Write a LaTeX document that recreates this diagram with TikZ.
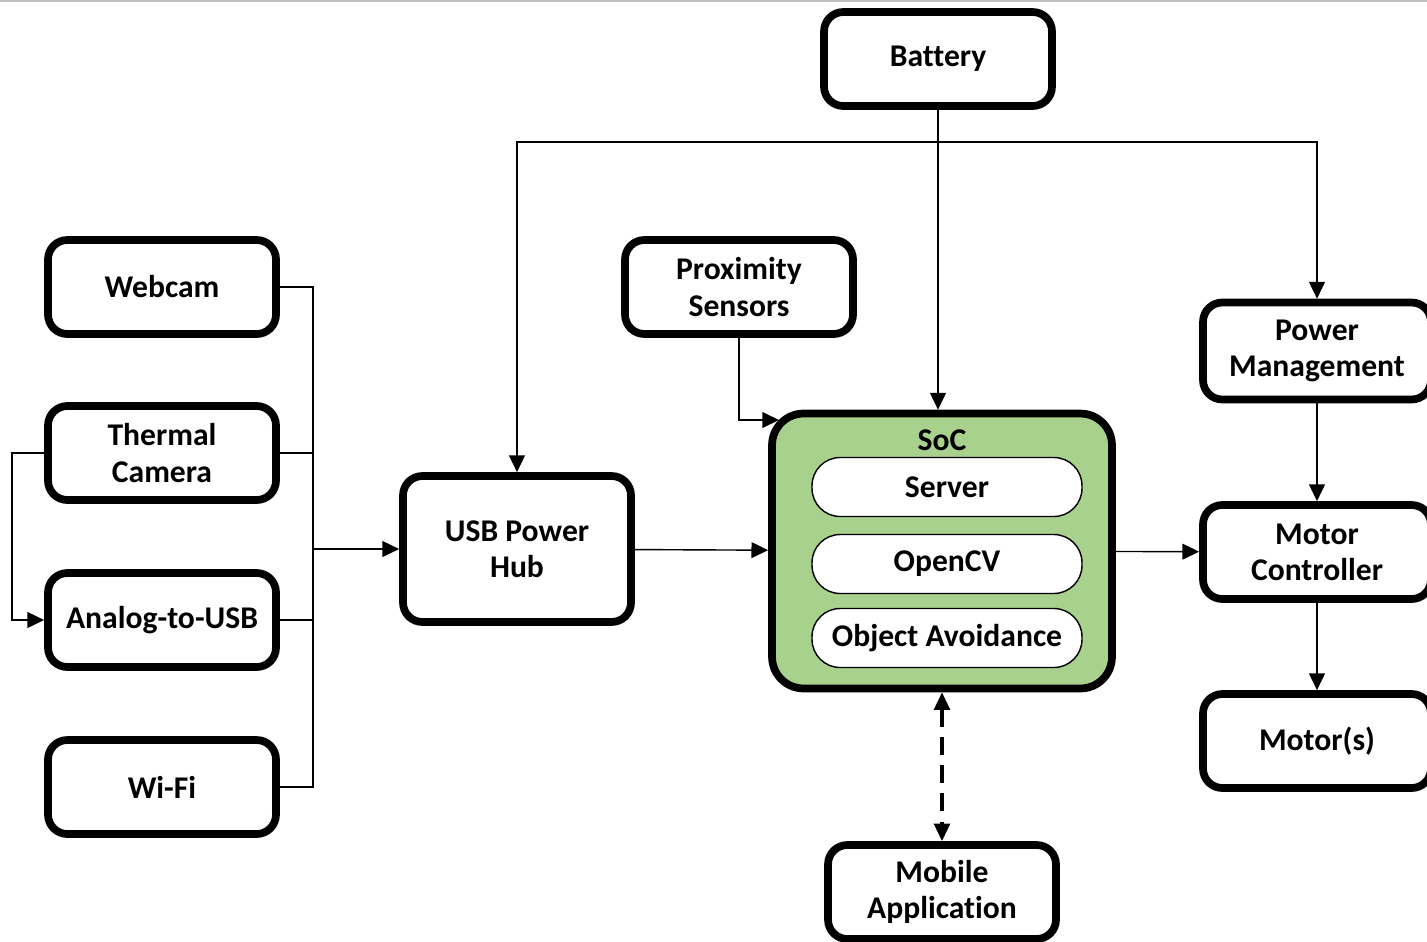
\documentclass[tikz,border=0pt]{standalone}
\usepackage{fontspec}
\setmainfont{Carlito}[Ligatures={NoCommon}]
\usetikzlibrary{arrows.meta}
\definecolor{socgreen}{HTML}{A9D18E}

\tikzstyle{block}=[draw,line width=4.4pt,rounded corners=11pt,fill=white,align=center,minimum width=4.56cm,minimum height=1.88cm,inner sep=2pt,font=\bfseries\fontsize{18}{20.6}\selectfont]
\tikzstyle{soc block}=[block,fill=socgreen,minimum width=6.8cm,minimum height=5.5cm,rounded corners=18pt]
\tikzstyle{task}=[draw,line width=0.8pt,rounded corners=16pt,fill=white,minimum width=5.4cm,minimum height=1.18cm,font=\bfseries\fontsize{18}{20.6}\selectfont]
\tikzstyle{line}=[draw,line width=0.8pt]
\tikzstyle{wire}=[draw,line width=0.8pt,-{Triangle[length=9.5pt,width=9pt]}]
\tikzstyle{link}=[draw,line width=1.8pt,dash pattern=on 10pt off 6pt,{Triangle[length=10pt,width=9pt]}-{Triangle[length=10pt,width=9pt]}]

\begin{document}
\begin{tikzpicture}[x=0.02cm,y=-0.02cm]
			\useasboundingbox (0,0) rectangle (1427,941);
			\clip (0,0) rectangle (1427,941);
			\draw[black!25,line width=1.2pt] (0,0.5) -- (1427,0.5);
			% Blocks
			\node[block] (battery) at (938,59) {Battery};
			\node[block] (webcam) at (162,287) {Webcam};
			\node[block] (thermal) at (162,453) {Thermal\\Camera};
			\node[block] (analog) at (162,620) {Analog-to-USB};
			\node[block] (wifi) at (162,787) {Wi-Fi};
			\node[block,minimum height=2.92cm] (hub) at (517,549) {USB Power\\Hub};
			\node[block] (prox) at (739,287) {Proximity\\Sensors};
			\node[soc block] (soc) at (942,551) {};
			\node[font=\bfseries\fontsize{18}{20.6}\selectfont] (soc label) at (942,440) {SoC};
			\node[task] (server) at (947,487) {Server};
			\node[task] (opencv) at (947,564) {OpenCV};
			\node[task] (avoid) at (947,638) {Object Avoidance};
			\node[block,minimum height=1.94cm] (power) at (1317,351) {Power\\Management};
			\node[block] (motorctl) at (1317,552) {Motor\\Controller};
			\node[block] (motors) at (1317,741) {Motor(s)};
			\node[block] (mobile) at (942,892) {Mobile\\Application};
			% Power from the battery
			\coordinate (split) at (938,142);
			\path[line] (battery) -- (split);
			\path[wire] (split) -| (hub);
			\path[wire] (split) -| (power);
			\path[wire] (split) -- (split |- soc.north);
			% Cameras into the hub
			\coordinate (bus) at (313,549);
			\foreach \source in {webcam, thermal, analog, wifi}
				\path[line] (\source) -| (bus);
			\path[wire] (bus) -- (hub);
			\coordinate (loop) at (12,453);
			\path[wire] (thermal) -- (loop) |- (analog);
			% Into and out of the SoC
			\coordinate (soc entry) at (779,420);
			\path[wire] (hub) -- (soc);
			\path[wire] (prox) |- (soc entry);
			\path[wire] (soc) -- (motorctl);
			\path[wire] (power) -- (motorctl);
			\path[wire] (motorctl) -- (motors);
			\path[link] (soc) -- (mobile);
		\end{tikzpicture}
\end{document}
